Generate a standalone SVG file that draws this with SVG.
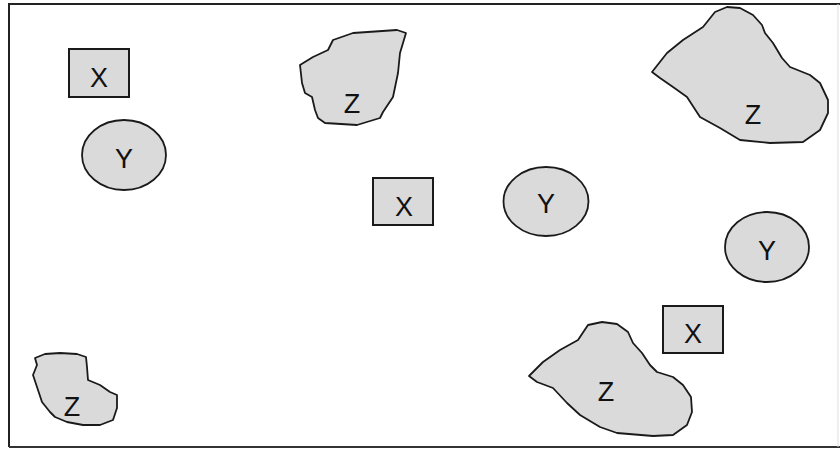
<svg xmlns="http://www.w3.org/2000/svg" width="840" height="449" viewBox="0 0 840 449">
<style>
.s{fill:#dadada;stroke:#1a1a1a;stroke-width:1.8;stroke-linejoin:round}
.r{fill:#dadada;stroke:#1a1a1a;stroke-width:2}
.t{font-family:"Liberation Sans",Arial,sans-serif;font-size:27px;fill:#111;text-anchor:middle}
</style>
<rect width="840" height="449" fill="#fff"/>
<path d="M9,447 V4 H840" fill="none" stroke="#222" stroke-width="2"/>
<path d="M9,447 H840" fill="none" stroke="#333" stroke-width="2"/>
<line x1="838" y1="4" x2="838" y2="447" stroke="#ddd" stroke-width="1"/>
<g id="x1"><rect class="r" x="69" y="49" width="60" height="48"/><text class="t" x="99" y="87">X</text></g>
<g id="y1"><ellipse class="s" cx="124" cy="155" rx="42" ry="35"/><text class="t" x="124" y="168">Y</text></g>
<g id="z1"><path class="s" d="M300,65 L313,57 L328,50 L333,40 L353,33 L397,30 L406,33 L403,43 L400,53 L398,73 L393,97 L383,112 L380,118 L357,125 L325,123 L318,118 L315,110 L312,97 L305,93 L302,83 Z"/><text class="t" x="352" y="113">Z</text></g>
<g id="x2"><rect class="r" x="373" y="178" width="60" height="47"/><text class="t" x="404" y="216">X</text></g>
<g id="y2"><ellipse class="s" cx="546" cy="201.5" rx="42.5" ry="34.5"/><text class="t" x="546" y="213">Y</text></g>
<g id="z2"><path class="s" d="M652,72 L667,53 L683,40 L703,27 L715,12 L727,7 L740,8 L753,15 L762,25 L765,33 L773,43 L782,58 L790,67 L810,75 L820,83 L828,100 L828,113 L820,130 L803,142 L770,143 L740,140 L720,128 L700,117 L687,97 L673,87 L660,78 Z"/><text class="t" x="753" y="124">Z</text></g>
<g id="y3"><ellipse class="s" cx="767" cy="247" rx="42" ry="35"/><text class="t" x="767" y="260">Y</text></g>
<g id="x3"><rect class="r" x="663" y="306" width="60" height="47"/><text class="t" x="693" y="343">X</text></g>
<g id="z3"><path class="s" d="M529,376 L543,362 L560,350 L578,340 L588,325 L602,322 L617,324 L628,332 L633,343 L642,353 L650,365 L657,372 L673,377 L683,385 L691,397 L692,412 L687,425 L673,435 L653,436 L617,433 L600,427 L580,415 L567,403 L553,388 L537,382 Z"/><text class="t" x="606" y="401">Z</text></g>
<g id="z4"><path class="s" d="M35,358 L45,354 L60,353 L77,354 L86,357 L87,367 L88,380 L100,385 L110,392 L117,395 L117,408 L113,420 L100,425 L83,425 L67,422 L55,417 L50,412 L42,402 L33,375 L37,365 Z"/><text class="t" x="72" y="416">Z</text></g>
<g id="connectors"></g>
</svg>
